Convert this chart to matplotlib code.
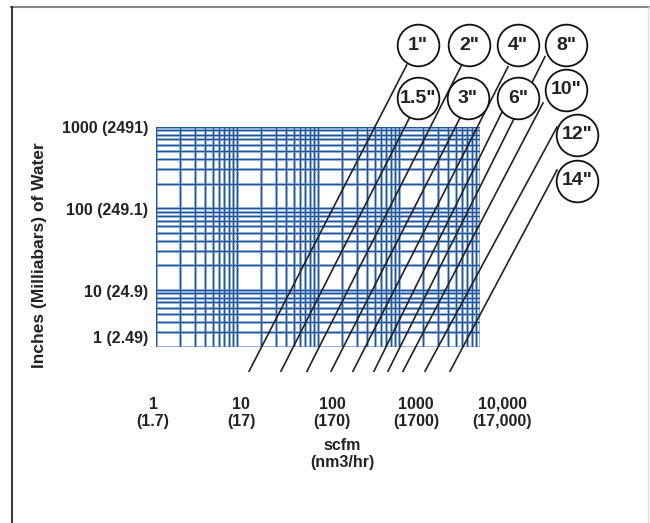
import numpy as np
import matplotlib
matplotlib.use("Agg")
import matplotlib.pyplot as plt
from matplotlib.lines import Line2D

plt.rcParams["font.family"] = ["Liberation Sans", "DejaVu Sans"]
plt.rcParams["font.weight"] = "bold"

# Pipe sizes and the flow lines (scfm at bottom / top end, inches of water)
pipes = ['1"', '1.5"', '2"', '3"', '4"', '6"', '8"', '10"', '12"', '14"']
flow_start = [14.1, 34.9, 73.1, 145, 270, 491, 731, 1120, 2094, 4265]
press_start = [1, 1, 1, 1, 1, 1, 1, 1, 1, 1]
flow_end = [1245, 1368, 5943, 5662, 22170, 19230, 63400, 59980, 89300, 89300]
press_end = [5716, 1327, 5716, 1279, 5444, 1603, 7228, 1954, 992, 294]
# label bubble positions
bubble_x = [1717, 1717, 7315, 7112, 29460, 29460, 115300, 115300, 157700, 157700]
bubble_y = [10050, 2249, 10050, 2249, 10050, 2249, 10050, 2820, 791, 216]

y_labels = ["1000 (2491)", "100 (249.1)", "10 (24.9)", "1 (2.49)"]
x_labels = ["1\n(1.7)", "10\n(17)", "100\n(170)", "1000\n(1700)", "10,000\n(17,000)"]

W, H = 650, 523
fig = plt.figure(figsize=(W / 100, H / 100), dpi=100)
ax = fig.add_axes([156 / W, 1 - 346.7 / H, 324 / W, 220 / H])
ax.set_xscale("log")
ax.set_yscale("log")
ax.set_xlim(1, 10000)
ax.set_ylim(2, 1000)

# log grid
xs = [k * 10 ** d for d in range(4) for k in range(1, 10)] + [10000]
ys = [k * 10 ** d for d in range(3) for k in range(1, 10) if 2 <= k * 10 ** d <= 1000] + [1000]
for v in xs:
    ax.axvline(v, color="#84a8d6", lw=2.0, zorder=1)
    ax.axvline(v, color="#1f5296", lw=0.7, zorder=2)
for v in ys:
    ax.axhline(v, color="#84a8d6", lw=2.0, zorder=1)
    ax.axhline(v, color="#1f5296", lw=0.7, zorder=2)

for s in ax.spines.values():
    s.set_visible(False)
ax.set_xticks([])
ax.set_yticks([])
ax.minorticks_off()

# flow lines
for i in range(len(pipes)):
    ax.plot([flow_start[i], flow_end[i]], [press_start[i], press_end[i]],
            color="#222222", lw=1.2, clip_on=False, zorder=3)

# bubbles
ax.scatter(bubble_x, bubble_y, s=30 ** 2, facecolor="white", edgecolor="#111111",
           linewidth=1.3, clip_on=False, zorder=4)
for bx, by, p in zip(bubble_x, bubble_y, pipes):
    ax.text(bx, by, p, ha="center", va="center", fontsize=14,
            fontweight="bold", color="#222222", zorder=5, clip_on=False)

# axis labels (placed as in the original artwork)
for lab, py in zip(y_labels, [128, 210, 292, 338]):
    fig.text(148 / W, 1 - py / H, lab, ha="right", va="center", fontsize=11.5,
             fontweight="bold", color="#222222")
for lab, px in zip(x_labels, [153, 241, 332, 416, 502]):
    fig.text(px / W, 1 - 413 / H, lab, ha="center", va="center", fontsize=11.5,
             fontweight="bold", color="#222222", linespacing=1.2)
fig.text(342 / W, 1 - 454 / H, "scfm\n(nm3/hr)", ha="center", va="center",
         fontsize=11.5, fontweight="bold", color="#222222", linespacing=1.2)
fig.text(40 / W, 1 - 255 / H, "Inches (Milliabars) of Water", ha="center",
         va="center", rotation=90, fontsize=12.5, fontweight="bold", color="#222222")

# frame
fig.add_artist(Line2D([11 / W, 1], [1 - 7 / H] * 2, color="#888888", lw=1.5))
fig.add_artist(Line2D([12 / W] * 2, [0, 1 - 7 / H], color="#111111", lw=1.2))
fig.add_artist(Line2D([648 / W] * 2, [0, 1 - 7 / H], color="#dddddd", lw=1.0))

fig.savefig("out.png", dpi=100)
